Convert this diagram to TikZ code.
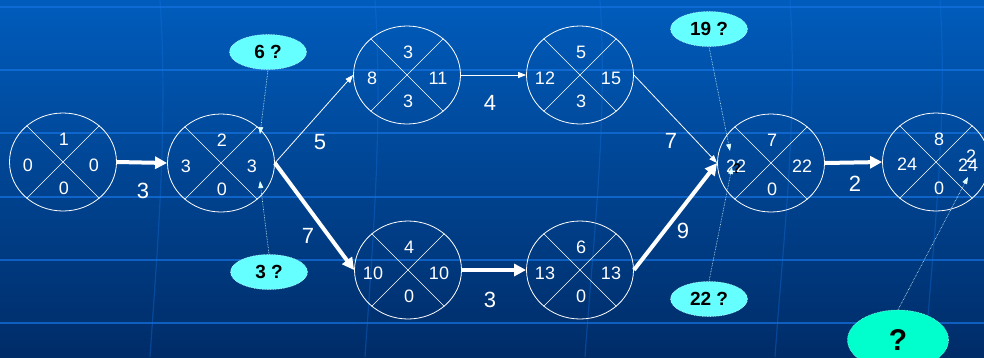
\documentclass[tikz,border=0pt]{standalone}
\usepackage{fontspec}
\setmainfont{Liberation Sans}
\usetikzlibrary{shapes.geometric,arrows.meta}
\definecolor{bgtop}{RGB}{0,92,188}
\definecolor{bgbot}{RGB}{0,44,104}
\definecolor{gridc}{RGB}{20,115,225}
\definecolor{calloutc}{RGB}{102,255,255}
\definecolor{bigc}{RGB}{0,255,204}
\newcommand{\pertnode}[7]{%
  \node[pert] (#1) at (#2,#3) {};
  \draw[crossline] (#1.45) -- (#1.225) (#1.135) -- (#1.315);
  \node[num] (#1-t) at (#2+1,#3-23) {#4};
  \node[num] (#1-l) at (#2-35,#3+3) {#5};
  \node[num] (#1-r) at (#2+31,#3+3) {#6};
  \node[num] (#1-b) at (#2+1,#3+26) {#7};
}
\begin{document}
\begin{tikzpicture}[x=1pt,y=-1pt,
  pert/.style={ellipse,draw=white,line width=0.8pt,minimum width=107pt,minimum height=98pt,inner sep=0pt},
  crossline/.style={draw=white,line width=0.6pt},
  num/.style={text=white,font=\fontsize{18}{18}\selectfont,inner sep=0pt},
  elabel/.style={text=white,font=\fontsize{22}{22}\selectfont,inner sep=0pt},
  thinarrow/.style={draw=white,line width=0.8pt,-{Triangle[length=8pt,width=6pt]}},
  thickarrow/.style={draw=white,line width=4pt,-{Triangle[length=12pt,width=12pt]}},
  callout/.style={ellipse,fill=calloutc,draw=white!60!calloutc,densely dotted,line width=0.6pt,minimum width=77pt,minimum height=35pt,font=\fontsize{19}{19}\selectfont\bfseries,text=black,inner sep=0pt},
  pointer/.style={draw=white!80!calloutc,densely dotted,line width=0.6pt,-{Triangle[length=7pt,width=5pt]}}
]
\useasboundingbox (0,0) rectangle (984,357);
\clip (0,0) rectangle (984,357);
% background
\shade[top color=bgtop,bottom color=bgbot] (0,0) rectangle (984,357);
\foreach \yy in {7,70,133,197,260,323}{
  \draw[gridc,line width=2pt,opacity=0.7] (0,\yy) -- (984,\yy);
}
\foreach \xa/\xb in {160/150,375/365,600/585,790/775,940/925}{
  \draw[gridc,line width=1.2pt,opacity=0.35] (\xa,0) .. controls (\xa+8,120) and (\xb+8,240) .. (\xb,357);
}
% nodes
\pertnode{n1}{63}{162}{1}{0}{0}{0}
\pertnode{n2}{221}{163}{2}{3}{3}{0}
\pertnode{n3}{407}{75}{3}{8}{11}{3}
\pertnode{n4}{580}{75}{5}{12}{15}{3}
\pertnode{n5}{408}{270}{4}{10}{10}{0}
\pertnode{n6}{580}{270}{6}{13}{13}{0}
\node[pert] (n7) at (771,163) {};
\draw[crossline] (n7.45) -- (n7.225) (n7.135) -- (n7.315);
\node[text=black,font=\fontsize{14}{14}\selectfont\bfseries,inner sep=0pt] (n7-q) at (737,169) {?};
\node[num] (n7-t) at (772,140) {7};
\node[num] (n7-l) at (736,166) {22};
\node[num] (n7-r) at (802,166) {22};
\node[num] (n7-b) at (772,189) {0};
\node[pert] (n8) at (936,162) {};
\draw[crossline] (n8.45) -- (n8.225) (n8.135) -- (n8.315);
\node[num] (n8-t) at (939,139) {8};
\node[num] (n8-l) at (907,164) {24};
\node[num] (n8-x) at (971,156) {2};
\node[num] (n8-r) at (968,165) {24};
\node[num] (n8-b) at (939,188) {0};
% activity arrows
\draw[thickarrow] (n1.east) -- (n2.west);
\draw[thinarrow] (n2.east) -- (n3.west);
\draw[thickarrow] (n2.east) -- (n5.west);
\draw[thinarrow] (n3.east) -- (n4.west);
\draw[thickarrow] (n5.east) -- (n6.west);
\draw[thinarrow] (n4.east) -- (n7.west);
\draw[thickarrow] (n6.east) -- (n7.west);
\draw[thickarrow] (n7.east) -- (n8.west);
% edge labels
\node[elabel] (e12) at (143,191) {3};
\node[elabel] (e23) at (320,142) {5};
\node[elabel] (e25) at (308,236) {7};
\node[elabel] (e34) at (490,103) {4};
\node[elabel] (e56) at (490,300) {3};
\node[elabel] (e47) at (671,141) {7};
\node[elabel] (e67) at (683,231) {9};
\node[elabel] (e78) at (855,184) {2};
% callouts
\node[callout] (c6) at (268,52) {6 ?};
\node[callout] (c3) at (269,272) {3 ?};
\node[callout] (c19) at (709,29) {19 ?};
\node[callout] (c22) at (709,299) {22 ?};
\node[callout,fill=bigc,draw=white!60!bigc,minimum width=101pt,minimum height=60pt,font=\fontsize{30}{30}\selectfont\bfseries] (cq) at (898,340) {?};
\coordinate (p6) at (260,134);
\coordinate (p3) at (260,181);
\coordinate (p19) at (730,151);
\coordinate (p22) at (732,167);
\coordinate (pq) at (968,177);
\draw[pointer] (c6.south) -- (p6);
\draw[pointer] (c3.north) -- (p3);
\draw[pointer] (c19.south) -- (p19);
\draw[pointer] (c22.north) -- (p22);
\draw[pointer] (cq.north) -- (pq);
\end{tikzpicture}
\end{document}
